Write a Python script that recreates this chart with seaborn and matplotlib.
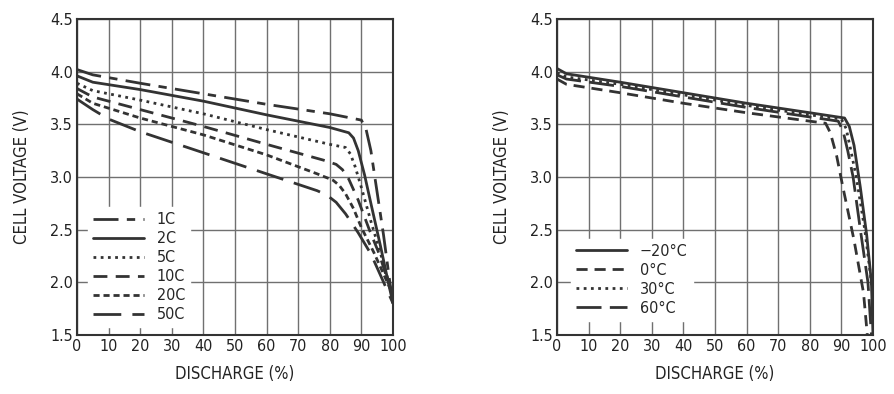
import numpy as np
import pandas as pd
import seaborn as sns
import matplotlib
matplotlib.use("Agg")
import matplotlib.pyplot as plt

# discharge rate curves (left panel)
rate_labels = ["1C", "2C", "5C", "10C", "20C", "50C"]
rate_x = {
    "1C":  [0, 5, 20, 40, 60, 80, 90, 91.5, 93, 95, 97, 99, 100],
    "2C":  [0, 5, 20, 40, 60, 80, 86, 87.5, 89, 91, 93, 96, 98.5, 100],
    "5C":  [0, 5, 20, 40, 60, 80, 85, 86.5, 88, 90, 93, 96, 98.5, 100],
    "10C": [0, 5, 20, 40, 60, 78, 82, 84, 86, 89, 92.5, 95.5, 98, 100],
    "20C": [0, 5, 20, 40, 60, 76, 81, 83, 85, 87.5, 90, 94, 97, 100],
    "50C": [0, 5, 10, 20, 40, 60, 70, 76, 79, 82, 85, 89, 93, 96, 100],
}
rate_v = {
    "1C":  [4.02, 3.97, 3.89, 3.79, 3.69, 3.60, 3.54, 3.45, 3.25, 2.85, 2.45, 2.00, 1.80],
    "2C":  [3.96, 3.90, 3.83, 3.72, 3.59, 3.47, 3.42, 3.37, 3.25, 3.02, 2.75, 2.35, 2.00, 1.80],
    "5C":  [3.89, 3.82, 3.73, 3.60, 3.45, 3.31, 3.28, 3.22, 3.10, 2.90, 2.58, 2.28, 2.02, 1.85],
    "10C": [3.84, 3.76, 3.64, 3.48, 3.31, 3.16, 3.12, 3.07, 2.98, 2.78, 2.50, 2.28, 2.05, 1.88],
    "20C": [3.79, 3.70, 3.56, 3.40, 3.21, 3.03, 2.97, 2.92, 2.84, 2.70, 2.52, 2.28, 2.08, 1.88],
    "50C": [3.74, 3.64, 3.55, 3.43, 3.23, 3.03, 2.93, 2.87, 2.83, 2.76, 2.65, 2.47, 2.27, 2.07, 1.80],
}

# temperature curves (right panel)
temp_labels = ["\u221220\u00b0C", "0\u00b0C", "30\u00b0C", "60\u00b0C"]
temp_x = {
    "\u221220\u00b0C": [0, 3, 20, 40, 60, 80, 91, 92.5, 94, 96, 98, 99.5, 100],
    "0\u00b0C":        [0, 3, 20, 40, 60, 80, 85, 86.5, 88.5, 90.5, 94, 97, 98.2],
    "30\u00b0C":       [0, 3, 20, 40, 60, 80, 90, 91.5, 93, 94.7, 97.4, 99.5, 100],
    "60\u00b0C":       [0, 3, 20, 40, 60, 80, 89, 90.5, 92, 93.7, 96, 98.4, 99.5],
}
temp_v = {
    "\u221220\u00b0C": [4.03, 3.98, 3.90, 3.80, 3.70, 3.61, 3.56, 3.48, 3.30, 2.90, 2.45, 2.00, 1.50],
    "0\u00b0C":        [3.93, 3.88, 3.80, 3.70, 3.61, 3.53, 3.51, 3.42, 3.20, 2.90, 2.40, 1.90, 1.50],
    "30\u00b0C":       [3.99, 3.95, 3.88, 3.78, 3.68, 3.59, 3.55, 3.46, 3.25, 3.00, 2.50, 2.00, 1.85],
    "60\u00b0C":       [3.97, 3.93, 3.86, 3.76, 3.66, 3.57, 3.53, 3.44, 3.25, 3.00, 2.50, 2.00, 1.50],
}

x_ticks = list(range(0, 101, 10))
y_ticks = [1.5, 2.0, 2.5, 3.0, 3.5, 4.0, 4.5]

rate_styles = {
    "1C": (0, (9, 3, 3, 3)),
    "2C": "-",
    "5C": (0, (1, 1.6)),
    "10C": (0, (5, 3)),
    "20C": (0, (2.2, 1.4)),
    "50C": (0, (10, 4)),
}
temp_styles = {
    "\u221220\u00b0C": "-",
    "0\u00b0C": (0, (4, 2.5)),
    "30\u00b0C": (0, (1, 1.6)),
    "60\u00b0C": (0, (9, 3)),
}

sns.set_style("white")
plt.rcParams["font.family"] = ["DejaVu Sans"]
plt.rcParams["font.stretch"] = "condensed"

line_color = "#333333"
fig = plt.figure(figsize=(8.94, 3.94), dpi=100)
ax1 = fig.add_axes([77 / 894, 59 / 394, 316 / 894, 316 / 394])
ax2 = fig.add_axes([557 / 894, 59 / 394, 316 / 894, 316 / 394])


def draw(ax, labels, xs, vs, styles, legend_anchor):
    for lab in labels:
        df = pd.DataFrame({"x": xs[lab], "v": vs[lab]})
        sns.lineplot(data=df, x="x", y="v", ax=ax, color=line_color,
                     linewidth=2, linestyle=styles[lab], label=lab, sort=False)
    ax.set_xlim(0, 100)
    ax.set_ylim(1.5, 4.5)
    ax.set_xticks(x_ticks)
    ax.set_yticks(y_ticks)
    ax.set_yticklabels([f"{t:.1f}" for t in y_ticks])
    ax.grid(True, color="#707070", linewidth=1)
    ax.tick_params(length=0, labelsize=11.5, colors="#222222", pad=3)
    for s in ax.spines.values():
        s.set_color("#333333")
        s.set_linewidth(1.5)
    ax.set_xlabel("DISCHARGE (%)", fontsize=12, color="#222222", labelpad=8)
    ax.set_ylabel("CELL VOLTAGE (V)", fontsize=12, color="#222222", labelpad=14)
    leg = ax.legend(loc="lower left", bbox_to_anchor=legend_anchor, frameon=True,
                    fontsize=11.5, handlelength=3.2, handletextpad=0.8,
                    labelspacing=0.25, borderpad=0.3, fancybox=False)
    leg.get_frame().set_facecolor("white")
    leg.get_frame().set_edgecolor("white")
    leg.get_frame().set_alpha(1)


draw(ax1, rate_labels, rate_x, rate_v, rate_styles, (0.01, 0.0))
draw(ax2, temp_labels, temp_x, temp_v, temp_styles, (0.02, 0.02))

fig.savefig("out.png", dpi=100)
